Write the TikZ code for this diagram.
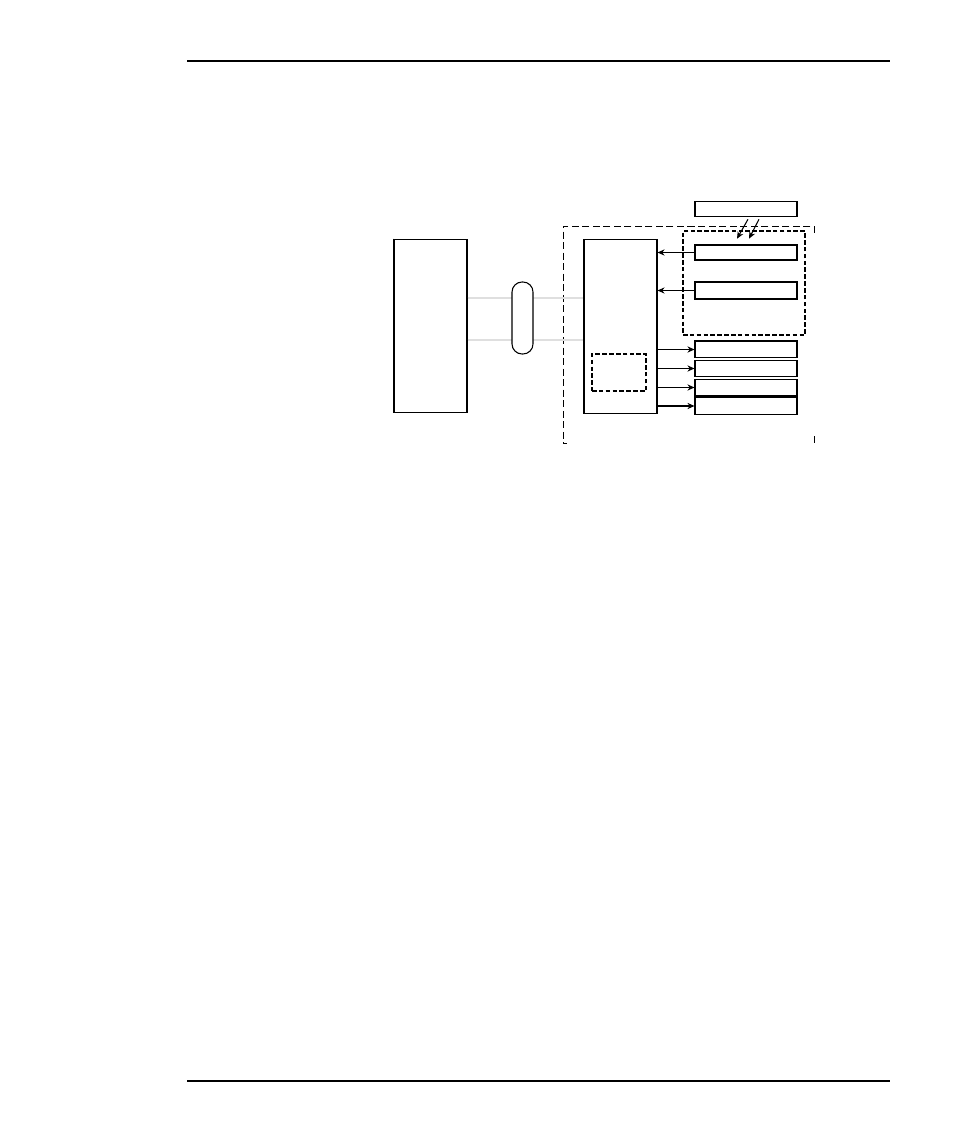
\documentclass[tikz,border=0pt]{standalone}
\usepackage{tikz}
\usetikzlibrary{positioning}
\usetikzlibrary{arrows.meta}

\begin{document}
\begin{tikzpicture}[x=0.02cm,y=-0.02cm,line width=0.6pt,
  blk/.style={draw,rectangle,inner sep=0pt,minimum width=2.04cm,minimum height=0.31cm},
  tall/.style={draw,rectangle,fill=white,inner sep=0pt,minimum width=1.46cm,minimum height=3.47cm},
  grp/.style={draw,rectangle,inner sep=0pt,line width=0.9pt,dash pattern=on 2.6pt off 1.3pt},
  arr/.style={-{Stealth[length=4pt,width=3.5pt]}}]
\useasboundingbox (0,0) rectangle (954,1145);
% page rules
\draw [line width=1.2pt] (187,61)--(890,61);
\draw (187,1081)--(890,1081);

% outer frame
\draw [line width=0.5pt,dash pattern=on 4pt off 2pt] (814,233)--(814,226)--(563,226)--(563,443)--(567,443);
\draw [line width=0.5pt] (814,436)--(814,443);

% left unit and controller
\node [tall] (host) at (430.5,326) {};
\draw [line width=1.1pt] (host.north west)--(host.south west);
\node [tall] (ctrl) at (620.5,326.5) {};

% cable
\draw [gray!25] (host.east |- 0,298)--(ctrl.west |- 0,298);
\draw [gray!25] (host.east |- 0,340)--(ctrl.west |- 0,340);
\node [draw,fill=white,inner sep=0pt,minimum width=0.42cm,minimum height=1.44cm,rounded corners=0.2cm] (cable) at (522.5,318) {};

% inner dashed block
\node [grp,minimum width=1.08cm,minimum height=0.74cm] (mem) at (619,372.5) {};

% input group
\node [grp,minimum width=2.44cm,minimum height=2.08cm] (ingrp) at (744,283) {};
\node [blk] (ext) at (746,209) {};
\node [blk,line width=1.2pt] (inA) at (746,252.5) {};
\node [blk,minimum height=0.34cm] (inB) at (746,290.5) {};

\draw [arr] ([xshift=0.04cm,yshift=-0.04cm]ext.south)--([xshift=-0.18cm,yshift=0.1cm]inA.north);
\draw [arr] ([xshift=0.26cm,yshift=-0.04cm]ext.south)--([xshift=0.06cm,yshift=0.1cm]inA.north);
\draw [arr,line width=1.1pt] (inA.west)--(inA.west -| ctrl.east);
\draw [arr] (inB.west)--(inB.west -| ctrl.east);

% outputs
\node [blk] (outC) at (746,349.5) {};
\draw [line width=1.1pt] (outC.north west)--(outC.north east);
\node [blk] (outD) at (746,368.5) {};
\node [blk] (outE) at (746,387.5) {};
\draw [line width=1.1pt] (outE.south west)--(outE.south east);
\node [blk,minimum height=0.33cm] (outF) at (746,406) {};

\foreach \o in {outC,outD,outE,outF}
  \draw [arr] (ctrl.east |- \o.west)--(\o.west);
\end{tikzpicture}
\end{document}
